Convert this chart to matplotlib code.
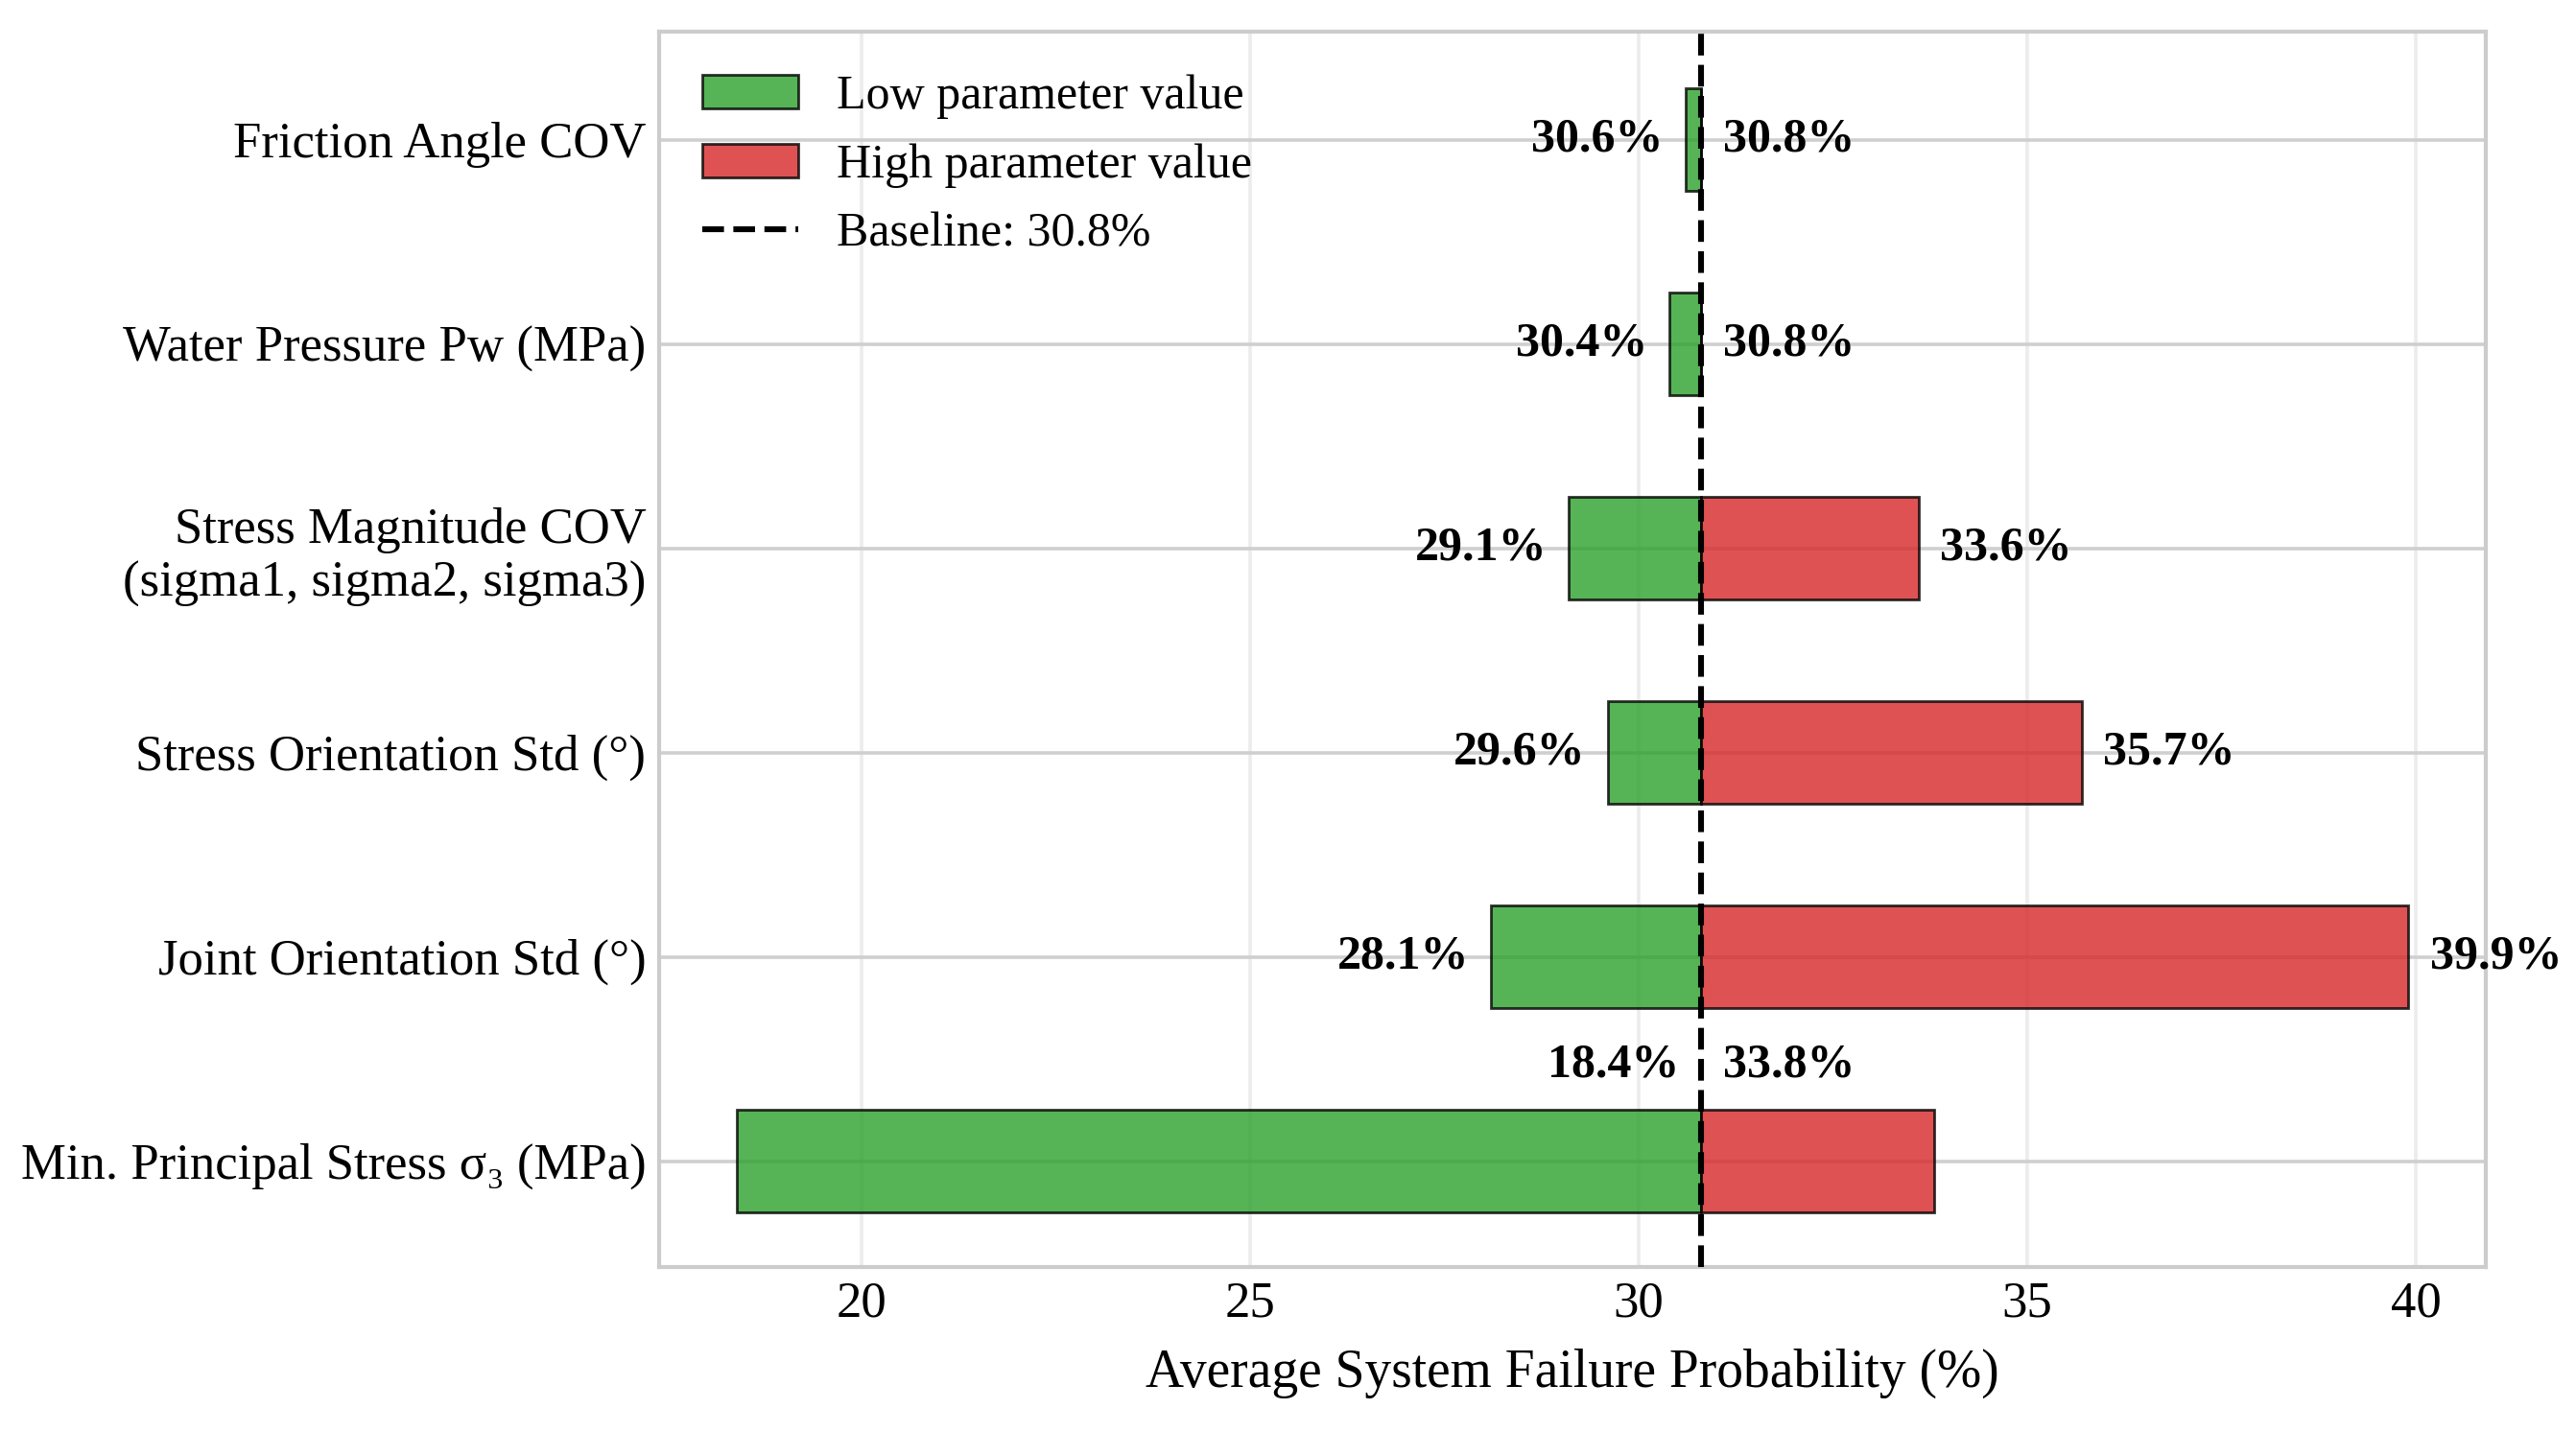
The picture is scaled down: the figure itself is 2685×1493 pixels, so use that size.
import numpy as np
import matplotlib
matplotlib.use("Agg")
import matplotlib.pyplot as plt
from matplotlib.patches import Patch
from matplotlib.lines import Line2D

# data (bottom to top)
params = [
    "Min. Principal Stress σ₃ (MPa)",
    "Joint Orientation Std (°)",
    "Stress Orientation Std (°)",
    "Stress Magnitude COV\n(sigma1, sigma2, sigma3)",
    "Water Pressure Pw (MPa)",
    "Friction Angle COV",
]
low_vals = [18.4, 28.1, 29.6, 29.1, 30.4, 30.6]
high_vals = [33.8, 39.9, 35.7, 33.6, 30.8, 30.8]
baseline = 30.8

green = "#2ca02c"
red = "#d62728"

plt.rcParams["font.family"] = ["Liberation Serif", "DejaVu Serif"]
plt.rcParams["font.size"] = 19

fig = plt.figure(figsize=(13.425, 7.465), dpi=200)
ax = fig.add_axes([0.256, 0.115, 0.709, 0.863])

y = np.arange(len(params))
low_w = [l - baseline for l in low_vals]
high_w = [h - baseline for h in high_vals]

ax.barh(y, low_w, left=baseline, height=0.5, color=green, alpha=0.8,
        edgecolor="black", linewidth=1.0, zorder=2)
ax.barh(y, high_w, left=baseline, height=0.5, color=red, alpha=0.8,
        edgecolor="black", linewidth=1.0, zorder=2)
ax.axvline(baseline, color="black", linestyle="--", linewidth=2.2, zorder=3)

off = 0.28
for i, (lo, hi) in enumerate(zip(low_vals, high_vals)):
    if i == 0:
        # wide bar: labels sit above, near the baseline
        ax.text(baseline - off, i + 0.47, f"{lo:.1f}%", ha="right", va="center",
                fontsize=18, fontweight="bold", zorder=4)
        ax.text(baseline + off, i + 0.47, f"{hi:.1f}%", ha="left", va="center",
                fontsize=18, fontweight="bold", zorder=4)
    else:
        ax.text(lo - off, i, f"{lo:.1f}%", ha="right", va="center",
                fontsize=18, fontweight="bold", zorder=4)
        ax.text(hi + off, i, f"{hi:.1f}%", ha="left", va="center",
                fontsize=18, fontweight="bold", zorder=4)

ax.set_yticks(y)
ax.set_yticklabels(params)
ax.set_xlim(17.4, 40.9)
ax.set_ylim(-0.52, 5.53)
ax.set_xticks([20, 25, 30, 35, 40])
ax.set_xlabel("Average System Failure Probability (%)", fontsize=20, labelpad=8)
ax.tick_params(axis="x", length=0, pad=5)
ax.tick_params(axis="y", length=0, pad=5)

ax.grid(axis="y", color="#cfcfcf", linewidth=1.3, zorder=0)
ax.grid(axis="x", color="#ececec", linewidth=1.3, zorder=0)
ax.set_axisbelow(True)
for s in ax.spines.values():
    s.set_color("#cccccc")
    s.set_linewidth(1.5)

handles = [
    Patch(facecolor=green, alpha=0.8, edgecolor="black", label="Low parameter value"),
    Patch(facecolor=red, alpha=0.8, edgecolor="black", label="High parameter value"),
    Line2D([0], [0], color="black", linestyle="--", linewidth=2.2, label=f"Baseline: {baseline}%"),
]
ax.legend(handles=handles, loc="upper left", frameon=False, fontsize=18,
          borderaxespad=0.5, handlelength=2.0, labelspacing=0.5)

fig.savefig("out.png", dpi=200)
